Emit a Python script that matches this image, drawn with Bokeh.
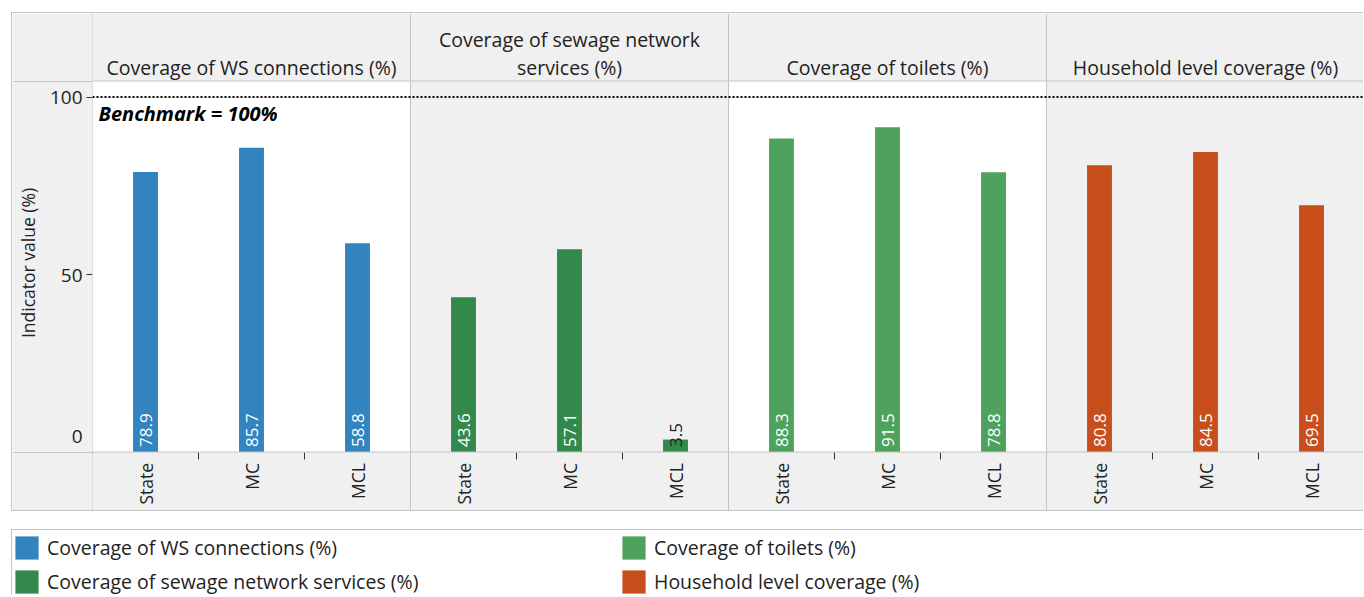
import numpy as np
from bokeh.plotting import figure
from bokeh.models import (FactorRange, Range1d, Span, FixedTicker, ColumnDataSource,
                          Legend, LegendItem)
from bokeh.embed import file_html
from bokeh.resources import INLINE
from bokeh.core.properties import value

# ---------------- data ----------------
metrics = ["Coverage of WS connections (%)",
           "Coverage of sewage network services (%)",
           "Coverage of toilets (%)",
           "Household level coverage (%)"]
titles = ["Coverage of WS connections (%)",
          "Coverage of sewage network\nservices (%)",
          "Coverage of toilets (%)",
          "Household level coverage (%)"]
categories = ["State", "MC", "MCL"]
ws_values = [78.9, 85.7, 58.8]
sewage_values = [43.6, 57.1, 3.5]
toilet_values = [88.3, 91.5, 78.8]
household_values = [80.8, 84.5, 69.5]
series_values = [ws_values, sewage_values, toilet_values, household_values]
colors = ["#3383be", "#33894b", "#4ea25b", "#c84f1c"]
benchmark = 100
benchmark_label = "Benchmark = 100%"
y_ticks = [0, 50, 100]
y_title = "Indicator value (%)"

# ---------------- style / layout constants (page pixels) ----------------
FONT = "Open Sans"
INK = "#222222"
RULE = "#c4c4c4"
PANEL = "#f0f0f0"
PX_PER_UNIT = 3.55
CANVAS_TOP = 13          # first canvas row (below the css top rule at row 12)
CANVAS_H = 499           # rows 13..511, css bottom rule at row 512
ZERO_ROW = 451.5         # page row of value 0
LEFT_W = 79              # canvas px left of the frame (frame starts at page x 91)


def at_row(py):
    return (ZERO_ROW - py) / PX_PER_UNIT


Y_END = at_row(CANVAS_TOP)
Y_START = at_row(CANVAS_TOP + CANVAS_H)
HEAD_LINE = at_row(80.5)
BASE_LINE = 0

# ---------------- derived tables ----------------
bar_x = [(m, c) for m in metrics for c in categories]
bar_val = [v for vals in series_values for v in vals]
bar_col = [col for col, vals in zip(colors, series_values) for _ in vals]
bar_cat = [c for _ in metrics for c in categories]
lab_text = ["%.1f" % v for v in bar_val]
lab_color = ["white" if v >= 12 else INK for v in bar_val]
src = ColumnDataSource(dict(x=bar_x, value=bar_val, color=bar_col,
                            cat=bar_cat, label=lab_text, label_color=lab_color))

x_range = FactorRange(*bar_x, factor_padding=0, group_padding=0, range_padding=0)

border_css = "1px solid " + RULE
p = figure(width=1352, height=CANVAS_H, x_range=x_range,
           y_range=Range1d(Y_START, Y_END),
           x_axis_location=None, y_axis_location="left",
           toolbar_location=None, output_backend="svg",
           min_border_left=LEFT_W, min_border_right=0,
           min_border_top=0, min_border_bottom=0,
           background_fill_color=PANEL, border_fill_color=PANEL, outline_line_color=None,
           margin=(12, 0, 0, 11),
           styles={"border-top": border_css, "border-left": border_css,
                   "border-bottom": border_css})
p.grid.grid_line_color = None

# white panels (every second metric) in the plot area
p.vbar(x=metrics[0::2], width=len(categories), bottom=BASE_LINE, top=HEAD_LINE,
       fill_color="white", line_color=None)

# bars
p.vbar(x="x", top="value", width=0.235, source=src, fill_color="color", line_color=None)

# table rules inside the frame
for loc in [HEAD_LINE, BASE_LINE]:
    p.add_layout(Span(location=loc, dimension="width", line_color=RULE, line_width=1))
for i in range(len(metrics)):
    p.add_layout(Span(location=i * len(categories), dimension="height",
                      line_color=RULE, line_width=1))

# benchmark
p.add_layout(Span(location=benchmark, dimension="width", line_color="black",
                  line_width=2, line_dash="2 2"))
p.text(x=[0], y=[benchmark], text=[benchmark_label], x_offset=6, y_offset=3,
       text_align="left", text_baseline="top", text_font=value(FONT),
       text_font_size="20px", text_font_style="bold italic", text_color="black")

# panel titles
p.text(x=metrics, y=HEAD_LINE, text=titles, y_offset=0, text_align="center",
       text_baseline="bottom", text_font=value(FONT), text_font_size="19.5px",
       text_color=INK, text_line_height=1.05)

# category labels
p.text(x="x", y=BASE_LINE, text="cat", source=src, angle=np.pi / 2, y_offset=11,
       text_align="right", text_baseline="middle", text_font=value(FONT),
       text_font_size="17.5px", text_color=INK)

# small ticks between categories
tick_x = [(m, c, 0.5) for m in metrics for c in categories[:-1]]
p.scatter(x=tick_x, y=at_row(455.5), marker="dash", angle=np.pi / 2, size=7,
          line_color="#333333", line_width=1)

# value labels
p.text(x="x", y=BASE_LINE, text="label", source=src, angle=np.pi / 2, y_offset=-5,
       text_align="left", text_baseline="middle", text_font=value(FONT),
       text_font_size="17px", text_color="label_color")

# y axis (minor ticks draw the header/base rules across the left column)
ya = p.yaxis[0]
ya.ticker = FixedTicker(ticks=y_ticks, minor_ticks=[HEAD_LINE, BASE_LINE])
ya.major_label_overrides = {0: "0\n"}
ya.axis_label = y_title
ya.axis_label_text_font = FONT
ya.axis_label_text_font_size = "17.5px"
ya.axis_label_text_font_style = "normal"
ya.axis_label_text_color = INK
ya.axis_label_standoff = 7
ya.major_label_text_font = FONT
ya.major_label_text_font_size = "19px"
ya.major_label_text_color = INK
ya.major_label_standoff = 10 - LEFT_W
ya.axis_line_color = None
ya.major_tick_in = 0
ya.major_tick_out = 6
ya.major_tick_line_color = "#333333"
ya.minor_tick_in = 0
ya.minor_tick_out = LEFT_W
ya.minor_tick_line_color = RULE

# ---------------- legend figure ----------------
lf = figure(width=1352, height=66, x_range=FactorRange(*categories), y_range=Range1d(0, 1),
            x_axis_location=None, y_axis_location=None,
            toolbar_location=None, output_backend="svg",
            min_border_left=0, min_border_top=3, min_border_right=0, min_border_bottom=0,
            outline_line_color=None, background_fill_color="white", border_fill_color="white",
            margin=(18, 0, 0, 11),
            styles={"border-top": border_css, "border-left": border_css})
lf.grid.grid_line_color = None

items = []
for m, c, vals in zip(metrics, colors, series_values):
    r = lf.vbar(x=categories, top=vals, width=0.5, fill_color=c, line_color=None,
                visible=False)
    items.append(LegendItem(label=m, renderers=[r]))
legend = Legend(items=items, location="top_left", orientation="vertical", nrows=2,
                glyph_width=29, glyph_height=29, label_height=29, label_width=567,
                label_standoff=6, spacing=5, padding=2, margin=0,
                border_line_color=None, background_fill_alpha=0,
                label_text_font=FONT, label_text_font_size="19.5px", label_text_color=INK)
lf.add_layout(legend)

open("out.html", "w").write(file_html([p, lf], INLINE))
